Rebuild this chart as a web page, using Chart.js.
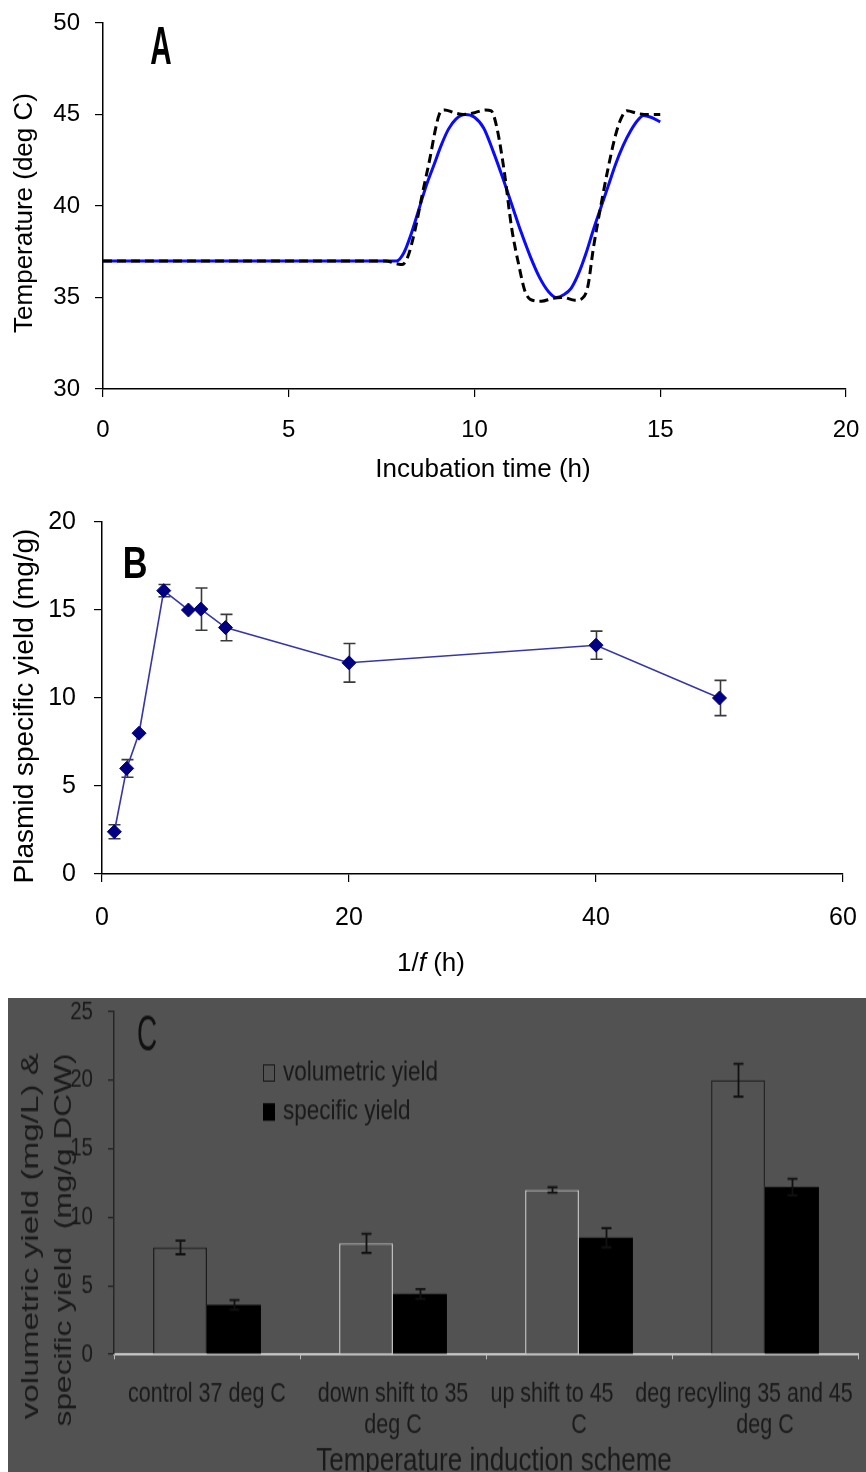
<!DOCTYPE html>
<html><head><meta charset="utf-8">
<script src="https://cdn.jsdelivr.net/npm/chart.js@4.4.0/dist/chart.umd.min.js"></script>
<style>
html,body{margin:0;padding:0;background:#fff;width:866px;height:1472px;overflow:hidden;}
.w{position:absolute;}
canvas{display:block;}
</style></head><body>
<div class="w" style="left:0;top:0;width:866px;height:490px"><canvas id="cA" width="866" height="490"></canvas></div>
<div class="w" style="left:0;top:490px;width:866px;height:500px"><canvas id="cB" width="866" height="500"></canvas></div>
<div class="w" style="left:8px;top:998px;width:858px;height:379px;transform:scaleY(1.25);transform-origin:0 0"><canvas id="cC" width="858" height="379"></canvas></div>
<script>
// ---------- Panel A data ----------
const timeSetpoint = [0, 7.6, 7.9, 8.05, 8.2, 8.4, 8.6, 8.8, 8.95, 9.05, 9.2, 9.45, 9.7, 10.0, 10.3, 10.45, 10.6, 10.8, 11.0, 11.2, 11.35, 11.5, 11.8, 12.1, 12.4, 12.7, 12.9, 13.05, 13.2, 13.4, 13.6, 13.8, 13.95, 14.1, 14.4, 14.7, 15.0];
const tempSetpoint = [37, 37, 36.85, 36.8, 37.2, 38.7, 40.7, 42.6, 44.2, 45.0, 45.25, 45.1, 45.0, 45.1, 45.25, 45.2, 44.3, 41.9, 38.8, 36.7, 35.4, 34.9, 34.8, 34.95, 35.0, 34.85, 34.95, 35.6, 37.7, 40.0, 42.1, 43.9, 44.8, 45.2, 45.05, 45.0, 45.0];
const timeActual = [0, 7.8, 7.9, 8.1, 8.3, 8.5, 8.7, 8.9, 9.1, 9.3, 9.5, 9.75, 10.0, 10.25, 10.5, 10.75, 11.0, 11.25, 11.5, 11.75, 12.0, 12.2, 12.4, 12.6, 12.8, 13.0, 13.2, 13.4, 13.6, 13.8, 14.0, 14.2, 14.4, 14.55, 14.75, 15.0];
const tempActual = [37, 37, 37.0, 37.45, 38.5, 39.8, 41.1, 42.2, 43.3, 44.2, 44.75, 45.0, 44.85, 44.25, 43.0, 41.6, 40.1, 38.6, 37.25, 36.1, 35.3, 35.0, 35.15, 35.5, 36.3, 37.4, 38.7, 39.9, 41.1, 42.3, 43.3, 44.1, 44.7, 44.95, 44.85, 44.6];
const ticksA_x = [0, 5, 10, 15, 20];
const ticksA_y = [30, 35, 40, 45, 50];

// ---------- Panel B data ----------
const invFreq = [1, 2, 3, 5, 7, 8, 10, 20, 40, 50];
const plasmidYield = [2.4, 6.0, 8.0, 16.1, 15.0, 15.05, 14.0, 12.0, 13.0, 10.0];
const plasmidErr = [0.4, 0.5, 0, 0.35, 0, 1.2, 0.75, 1.1, 0.8, 1.0];

// ---------- Panel C data ----------
const schemes = [["control 37 deg C"], ["down shift to 35", "deg C"], ["up shift to 45", "C"], ["deg recyling 35 and 45", "deg C"]];
const volYield = [7.8, 8.1, 12.0, 20.0];
const volErr = [0.5, 0.7, 0.2, 1.2];
const specYield = [3.6, 4.4, 8.5, 12.2];
const specErr = [0.35, 0.35, 0.7, 0.6];

const SANS = "'Liberation Sans', Arial, sans-serif";

// ---------- plugins ----------
function drawItem(ctx, it) {
  ctx.save();
  ctx.translate(it.x, it.y);
  if (it.rot) ctx.rotate(it.rot);
  if (it.sx) ctx.scale(it.sx, 1);
  ctx.fillStyle = it.color || '#000';
  ctx.textBaseline = 'middle';
  ctx.textAlign = 'left';
  const parts = it.parts || [{ t: it.text }];
  let total = 0;
  parts.forEach(p => { ctx.font = p.font || it.font; p.w = ctx.measureText(p.t).width; total += p.w; });
  let x = -total / 2;
  parts.forEach(p => { ctx.font = p.font || it.font; ctx.fillText(p.t, x, 0); x += p.w; });
  ctx.restore();
}
const textPlugin = {
  id: 'texts',
  afterDraw(chart, args, opts) {
    (opts.items || []).forEach(it => drawItem(chart.ctx, it));
  }
};
function drawErrors(chart, opts) {
  const ctx = chart.ctx;
  const yScale = chart.scales.y;
  ctx.save();
  ctx.strokeStyle = opts.color;
  ctx.lineWidth = opts.width;
  (opts.sets || []).forEach(s => {
    const meta = chart.getDatasetMeta(s.index);
    const vals = chart.data.datasets[s.index].data;
    meta.data.forEach((el, j) => {
      const e = s.errors[j];
      if (!e) return;
      const v = typeof vals[j] === 'object' ? vals[j].y : vals[j];
      const x = Math.round(el.x) + 0.5;
      const yt = yScale.getPixelForValue(v + e);
      const yb = yScale.getPixelForValue(v - e);
      ctx.beginPath();
      ctx.moveTo(x, yt); ctx.lineTo(x, yb);
      ctx.moveTo(x - opts.cap, yt); ctx.lineTo(x + opts.cap, yt);
      ctx.moveTo(x - opts.cap, yb); ctx.lineTo(x + opts.cap, yb);
      ctx.stroke();
    });
  });
  ctx.restore();
}
const errorPlugin = {
  id: 'errorBars',
  beforeDatasetsDraw(chart, args, opts) { if (opts.before) drawErrors(chart, opts); },
  afterDatasetsDraw(chart, args, opts) { if (!opts.before) drawErrors(chart, opts); }
};
const bgPlugin = {
  id: 'bg',
  beforeDraw(chart, args, opts) {
    if (!opts.color) return;
    const ctx = chart.ctx;
    ctx.save(); ctx.fillStyle = opts.color; ctx.fillRect(0, 0, chart.width, chart.height); ctx.restore();
  }
};
const legendPlugin = {
  id: 'boxLegend',
  afterDraw(chart, args, o) {
    if (!o.x) return;
    const ctx = chart.ctx;
    ctx.save();
    ctx.font = o.font; ctx.textBaseline = 'middle'; ctx.textAlign = 'left';
    chart.data.datasets.forEach((ds, i) => {
      const y = o.y0 + i * o.dy;
      ctx.fillStyle = ds.backgroundColor;
      ctx.fillRect(o.x, y - 7, 12, 14);
      if (i === 0) { ctx.strokeStyle = '#1a1a1a'; ctx.lineWidth = 1; ctx.strokeRect(o.x + 0.5, y - 6.5, 11, 13); }
      ctx.fillStyle = o.color;
      ctx.fillText(ds.label, o.x + 20, y);
    });
    ctx.restore();
  }
};
const catLabelPlugin = {
  id: 'catLabels',
  afterDraw(chart, args, o) {
    if (!o.font) return;
    const xs = chart.scales.x, ctx = chart.ctx;
    ctx.save();
    ctx.font = o.font; ctx.fillStyle = o.color; ctx.textAlign = 'center'; ctx.textBaseline = 'middle';
    chart.data.labels.forEach((lab, i) => {
      const x = xs.getPixelForValue(i);
      const lines = Array.isArray(lab) ? lab : [lab];
      lines.forEach((ln, j) => {
        const sh = (o.shift[i] && o.shift[i][j]) || 0;
        ctx.fillText(ln, x + sh, xs.top + o.offset + j * o.lineHeight);
      });
    });
    ctx.restore();
  }
};

function axisStyle(color, tl) {
  return {
    grid: { drawOnChartArea: false, drawTicks: true, tickLength: tl, color: color, lineWidth: 1.2 },
    border: { display: true, color: color, width: 1.5 }
  };
}
function noPad(s) { s.paddingLeft = 0; s.paddingRight = 0; s.paddingTop = 0; s.paddingBottom = 0; }

// ---------- Chart A ----------
new Chart(document.getElementById('cA'), {
  type: 'scatter',
  data: {
    datasets: [
      { label: 'setpoint', data: timeSetpoint.map((t, i) => ({ x: t, y: tempSetpoint[i] })), showLine: true, borderColor: '#000', borderWidth: 3, borderDash: [9, 5], pointRadius: 0, cubicInterpolationMode: 'monotone' },
      { label: 'actual', data: timeActual.map((t, i) => ({ x: t, y: tempActual[i] })), showLine: true, borderColor: '#0a0aff', borderWidth: 3, pointRadius: 0, cubicInterpolationMode: 'monotone' }
    ]
  },
  plugins: [textPlugin],
  options: {
    responsive: false, animation: false,
    layout: { padding: { left: 0, top: 23, right: 20, bottom: 0 } },
    plugins: {
      legend: { display: false }, tooltip: { enabled: false },
      texts: { items: [
        { text: 'A', x: 161, y: 49, font: "bold 53px " + SANS, sx: 0.56 },
        { text: 'Temperature (deg C)', x: 25, y: 213, rot: -Math.PI / 2, font: "26px " + SANS },
        { text: 'Incubation time (h)', x: 483, y: 470, font: "26px " + SANS }
      ] }
    },
    scales: {
      x: Object.assign({ type: 'linear', min: 0, max: 20,
        afterBuildTicks: s => { s.ticks = ticksA_x.map(v => ({ value: v })); },
        afterFit: s => { s.height = 101; noPad(s); },
        ticks: { font: { size: 24, family: SANS }, color: '#000', padding: 19 } }, axisStyle('#000', 8)),
      y: Object.assign({ type: 'linear', min: 30, max: 50,
        afterBuildTicks: s => { s.ticks = ticksA_y.map(v => ({ value: v })); },
        afterFit: s => { s.width = 103; noPad(s); },
        ticks: { font: { size: 24, family: SANS }, color: '#000', padding: 15 } }, axisStyle('#000', 8))
    }
  }
});

// ---------- Chart B ----------
new Chart(document.getElementById('cB'), {
  type: 'scatter',
  data: {
    datasets: [
      { label: 'yield', data: invFreq.map((v, i) => ({ x: v, y: plasmidYield[i] })), showLine: true, borderColor: '#3636a8', borderWidth: 1.6,
        pointStyle: 'rectRot', pointRadius: 7, pointBackgroundColor: '#000080', pointBorderColor: '#000080', pointBorderWidth: 1 }
    ]
  },
  plugins: [textPlugin, errorPlugin],
  options: {
    responsive: false, animation: false,
    layout: { padding: { left: 0, top: 32, right: 23, bottom: 0 } },
    plugins: {
      legend: { display: false }, tooltip: { enabled: false },
      errorBars: { before: true, color: '#3a3a3a', width: 1.6, cap: 6, sets: [{ index: 0, errors: plasmidErr }] },
      texts: { items: [
        { text: 'B', x: 135, y: 76, font: "bold 45px " + SANS, sx: 0.76 },
        { text: 'Plasmid specific yield (mg/g)', x: 25, y: 216, rot: -Math.PI / 2, font: "28px " + SANS },
        { x: 431, y: 474, font: "26px " + SANS, parts: [{ t: '1/' }, { t: 'f', font: "italic 26px " + SANS }, { t: ' (h)' }] }
      ] }
    },
    scales: {
      x: Object.assign({ type: 'linear', min: 0, max: 60,
        ticks: { stepSize: 20, font: { size: 25, family: SANS }, color: '#000', padding: 21 },
        afterFit: s => { s.height = 116; noPad(s); } }, axisStyle('#000', 8)),
      y: Object.assign({ type: 'linear', min: 0, max: 20,
        ticks: { stepSize: 5, font: { size: 25, family: SANS }, color: '#000', padding: 18 },
        afterFit: s => { s.width = 102; noPad(s); } }, axisStyle('#000', 8))
    }
  }
});

// ---------- Chart C (drawn on a canvas stretched vertically, like the original) ----------
const TXT_C = '#1a1a1a';
new Chart(document.getElementById('cC'), {
  type: 'bar',
  data: {
    labels: schemes,
    datasets: [
      { label: 'volumetric yield', data: volYield, backgroundColor: '#525252',
        borderColor: ['#1c1c1c', '#bdbdbd', '#bdbdbd', '#262626'], borderWidth: { top: 1.3, left: 1.5, right: 1.5, bottom: 0 }, borderSkipped: 'bottom' },
      { label: 'specific yield', data: specYield, backgroundColor: '#000000', borderWidth: 0 }
    ]
  },
  plugins: [bgPlugin, textPlugin, errorPlugin, legendPlugin, catLabelPlugin],
  options: {
    responsive: false, animation: false,
    categoryPercentage: 0.58, barPercentage: 1.0,
    layout: { padding: { left: 0, top: 11, right: 8, bottom: 0 } },
    plugins: {
      legend: { display: false }, tooltip: { enabled: false },
      bg: { color: '#525252' },
      errorBars: { before: false, color: '#111', width: 1.8, cap: 5, sets: [{ index: 0, errors: volErr }, { index: 1, errors: specErr }] },
      boxLegend: { x: 255, y0: 60, dy: 31.2, font: "22.5px " + SANS, color: TXT_C },
      catLabels: { font: "21.5px " + SANS, color: TXT_C, offset: 32.5, lineHeight: 24.8, shift: [[0], [0, 0], [-27, 0], [-21, 0]] },
      texts: { items: [
        { text: 'C', x: 139, y: 30.5, font: "41px " + SANS, sx: 0.68, color: '#111' },
        { text: 'volumetric yield (mg/L) &', x: 23, y: 190.5, rot: -Math.PI / 2, sx: 1.11, font: "24px " + SANS, color: TXT_C },
        { text: 'specific yield  (mg/g DCW)', x: 56, y: 193.5, rot: -Math.PI / 2, sx: 1.055, font: "24px " + SANS, color: TXT_C },
        { text: 'Temperature induction scheme', x: 486, y: 371, font: "26px " + SANS, color: TXT_C }
      ] }
    },
    scales: {
      x: {
        grid: { drawOnChartArea: false, drawTicks: true, tickLength: 4, color: '#bdbdbd', offset: true },
        border: { display: true, color: '#c4c4c4', width: 2 },
        ticks: { display: false },
        afterFit: s => { s.height = 94; noPad(s); }
      },
      y: {
        min: 0, max: 25,
        grid: { drawOnChartArea: false, drawTicks: true, tickLength: 6, color: '#222', lineWidth: 1.2 },
        border: { display: true, color: '#262626', width: 1.5 },
        ticks: { stepSize: 5, font: { size: 20.5, family: SANS }, color: TXT_C, padding: 15 },
        afterFit: s => { s.width = 106; noPad(s); }
      }
    }
  }
});
</script>
</body></html>
